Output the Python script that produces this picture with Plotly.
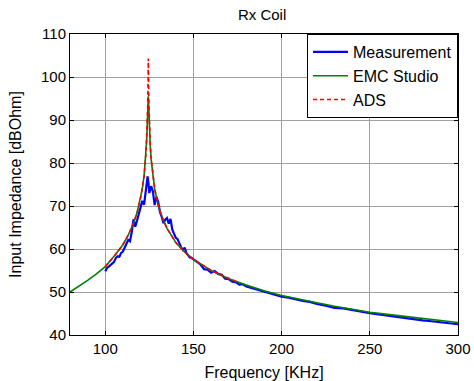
import plotly.graph_objects as go

# Measurement (blue)
meas_f = [100, 101, 102, 103, 104, 105, 106, 107, 108, 109, 110, 111, 112, 113, 114, 115, 116, 117, 118, 119,
          120, 121, 122, 123, 124, 124.5, 125, 126, 127, 128, 129, 130, 131, 132, 133, 134, 135, 136, 137, 138,
          139, 140, 141, 142, 143, 144, 145, 146, 147, 148, 149, 150, 152, 154, 156, 158, 160,
          162, 164, 166, 168, 170, 172, 174, 176, 178, 180, 184, 188, 192, 196, 200, 204, 208, 212, 216, 220,
          225, 230, 235, 240, 245, 250, 255, 260, 265, 270, 275, 280, 285, 290, 295, 300]
meas_z = [54.8, 55.6, 55.9, 56.3, 56.8, 57.0, 57.9, 58.3, 58.2, 59.1, 59.4, 60.2, 61.0, 62.1, 61.8, 63.9, 66.9, 65.2, 66.6, 68.0,
          69.7, 71.2, 70.3, 74.1, 76.9, 75.2, 73.0, 74.6, 73.4, 70.2, 72.1, 71.0, 68.6, 67.5, 66.0, 66.8, 67.2, 65.9, 67.0, 64.5,
          63.4, 62.6, 62.3, 61.3, 60.4, 59.8, 60.3, 59.1, 58.4, 58.0, 57.9, 57.6, 56.8, 56.4, 55.3, 55.2, 54.5,
          54.9, 54.2, 54.0, 53.1, 53.0, 52.4, 52.3, 51.7, 51.8, 51.3, 50.8, 50.3, 49.8, 49.4, 48.9, 48.7, 48.3, 47.9, 47.7, 47.2,
          46.8, 46.3, 46.2, 45.8, 45.4, 45.1, 44.8, 44.5, 44.3, 44.0, 43.7, 43.4, 43.2, 43.0, 42.8, 42.5]

# EMC Studio (green)
emc_f = [80, 85, 90, 95, 100, 105, 110, 113, 116, 118, 120, 121, 122, 123, 123.5, 124, 124.4, 124.8, 125, 125.5,
         126, 127, 128, 130, 132, 135, 140, 145, 150, 160, 170, 180, 190, 200, 210, 220, 230, 240, 250, 260,
         270, 280, 290, 300]
emc_z = [50.0, 51.3, 52.7, 54.2, 55.9, 58.3, 61.0, 63.2, 66.0, 68.4, 71.7, 74.0, 77.0, 81.6, 85.3, 91.0, 95.5, 91.5, 88.7, 84.0,
         80.9, 76.8, 74.0, 70.2, 67.6, 64.8, 61.5, 59.3, 57.6, 55.0, 53.1, 51.6, 50.3, 49.2, 48.3, 47.5, 46.7, 46.0, 45.3, 44.8,
         44.3, 43.8, 43.4, 42.9]

# ADS (red dashed)
ads_f = [100, 105, 110, 113, 116, 118, 120, 121, 122, 123, 123.5, 124, 124.2, 124.4, 124.6, 124.8, 125, 125.5, 126, 127,
         128, 130, 132, 135, 140, 145, 150, 160, 170, 175]
ads_z = [55.9, 58.3, 61.0, 63.2, 66.0, 68.4, 71.7, 74.0, 77.0, 81.8, 85.7, 92.5, 97.5, 104.3, 97.5, 93.0, 89.4, 84.2, 81.0, 76.8,
         74.0, 70.2, 67.6, 64.8, 61.5, 59.3, 57.6, 55.0, 53.1, 52.3]

x_ticks = [100, 150, 200, 250, 300]
y_ticks = [40, 50, 60, 70, 80, 90, 100, 110]

font_family = "Liberation Sans, Arial, sans-serif"

fig = go.Figure()
fig.add_trace(go.Scatter(x=meas_f, y=meas_z, mode="lines", name="Measurement",
                         line=dict(color="#0000ff", width=2.2)))
fig.add_trace(go.Scatter(x=emc_f, y=emc_z, mode="lines", name="EMC Studio",
                         line=dict(color="#008000", width=1.6)))
fig.add_trace(go.Scatter(x=ads_f, y=ads_z, mode="lines", name="ADS",
                         line=dict(color="#ff0000", width=1.6, dash="4px,3px")))

axis_common = dict(showline=True, linecolor="black", linewidth=1, mirror="ticks",
                   ticks="inside", ticklen=4, tickcolor="black", automargin=False,
                   showgrid=True, gridcolor="#a0a0a0", gridwidth=1, zeroline=False,
                   tickfont=dict(size=15, color="black", family=font_family))

fig.update_layout(
    width=474, height=381,
    margin=dict(l=70, r=16, t=34, b=46),
    paper_bgcolor="white", plot_bgcolor="white",
    font=dict(family=font_family, color="black"),
    title=dict(text="Rx Coil", x=0.553, xanchor="center", y=0.962, yanchor="middle",
               font=dict(size=15, color="black", family=font_family)),
    xaxis=dict(range=[80, 300], tickvals=x_ticks,
               title=dict(text="Frequency [KHz]", font=dict(size=16)),
               **axis_common),
    yaxis=dict(range=[40, 110], tickvals=y_ticks,
               title=dict(text="Input Impedance [dBOhm]", font=dict(size=16)),
               **axis_common),
    legend=dict(x=1, y=1, xanchor="right", yanchor="top", bgcolor="white",
                bordercolor="black", borderwidth=1, font=dict(size=16, color="black"),
                itemwidth=35, tracegroupgap=0),
    showlegend=True,
)

fig.write_html("out.html")
